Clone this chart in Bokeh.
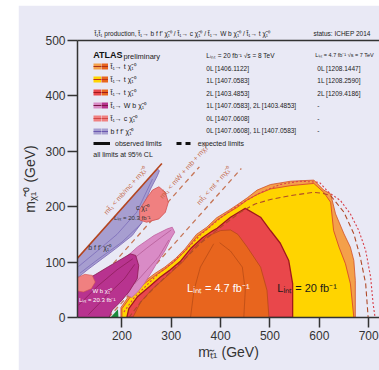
from bokeh.plotting import figure
from bokeh.models import Range1d, FixedTicker, LinearAxis, Label, Legend, LegendItem, Spacer
from bokeh.layouts import row, column
from bokeh.embed import file_html
from bokeh.resources import INLINE

# ---------------- data ----------------
x_ticks = [100, 200, 300, 400, 500, 600, 700]
y_ticks = [0, 100, 200, 300, 400, 500]

# kinematic boundaries
kin_b_x = [110, 281]
kin_b_y = [107, 278]
kin_wb_x = [110, 357]
kin_wb_y = [25, 272]
kin_t_x = [173, 442]
kin_t_y = [0, 269]

# t1 -> t chi (8 TeV, 0L) light orange
lo_x = [198, 198, 215, 240, 266, 287, 308, 328, 351, 372, 392, 416, 433, 454, 474, 501, 542, 589, 609, 623, 633, 650, 663, 670, 673, 673]
lo_y = [0, 18, 40, 61, 79, 91, 106, 124, 150, 163, 180, 193, 203, 216, 230, 240, 246, 248, 230, 223, 187, 151, 127, 103, 67, 0]
# t1 -> t chi (8 TeV, 1L) yellow
ye_x = [200, 200, 217, 241, 268, 288, 309, 329, 352, 373, 393, 417, 434, 454, 474, 501, 542, 589, 609, 623, 629, 640, 653, 663, 670]
ye_y = [0, 16, 37, 58, 76, 88, 103, 121, 146, 160, 176, 190, 199, 212, 222, 232, 238, 242, 226, 208, 157, 127, 97, 61, 0]
# t1 -> t chi (8 TeV, 2L) red
rd_x = [210, 214, 232, 256, 278, 298, 318, 341, 363, 383, 393, 420, 450, 481, 501, 521, 538, 546, 546]
rd_y = [0, 16, 38, 56, 73, 86, 101, 126, 144, 156, 161, 181, 197, 181, 157, 134, 103, 61, 0]
# t1 -> t chi (7 TeV) dark orange
do_x = [222, 238, 260, 283, 303, 323, 346, 372, 400, 420, 435, 454, 481, 494, 498]
do_y = [0, 28, 50, 68, 84, 100, 126, 146, 157, 158, 150, 127, 91, 49, 0]
# t1 -> W b chi : pink (1L) and magenta (2L)
pk_x = [205, 231, 265, 292, 302, 307, 299, 287, 272, 260, 246, 232, 220, 210]
pk_y = [106, 127, 148, 160, 163, 154, 142, 120, 100, 82, 62, 46, 36, 40]
mg_x = [110, 110, 120, 147, 173, 200, 217, 228, 234, 231, 214, 197, 180, 174]
mg_y = [0, 62, 64, 78, 92, 106, 115, 112, 94, 70, 46, 28, 13, 0]
gr_x = [177, 193, 192]
gr_y = [0, 0, 15]
# b f f' chi : purple
pu_x = [110, 272, 276, 272, 258, 250, 241, 241, 221, 187, 160, 133, 112, 110]
pu_y = [107, 268, 265, 256, 232, 215, 195, 172, 148, 124, 106, 88, 73, 72]
# t1 -> c chi : salmon
sa1_x = [236, 250, 262, 275, 288, 294, 288, 275, 250, 236]
sa1_y = [195, 215, 230, 236, 226, 208, 190, 178, 172, 176]
sa2_x = [110, 110, 125, 140, 146, 138, 122]
sa2_y = [48, 72, 78, 76, 64, 52, 46]

# expected limits (dashed) and alternative observed (dotted)
exp_x = [214, 240, 270, 300, 330, 359, 400, 440, 470, 501, 542, 588, 608, 623, 650, 670, 683, 694, 699]
exp_y = [0, 30, 58, 83, 108, 134, 163, 190, 205, 213, 220, 226, 224, 220, 190, 151, 109, 61, 0]
dot_x = [204, 225, 250, 275, 300, 330, 360, 400, 440, 480, 520, 560, 600, 619, 643, 663, 680, 694, 704, 709, 713]
dot_y = [10, 36, 58, 80, 97, 122, 150, 180, 205, 225, 240, 246, 244, 226, 211, 187, 157, 121, 73, 25, 0]

# internal contours
c1_x = [339, 346, 359, 386]
c1_y = [0, 49, 91, 133]
c2_x = [447, 450, 444, 420, 398]
c2_y = [0, 49, 91, 120, 135]
pc1_x = [112, 150, 190, 230, 262]
pc1_y = [92, 120, 150, 190, 250]
pc2_x = [115, 150, 200, 240]
pc2_y = [80, 104, 136, 170]
mc1_x = [112, 150, 190, 222]
mc1_y = [22, 56, 86, 106]
mc2_x = [132, 170, 205, 226]
mc2_y = [5, 40, 70, 96]
kc1_x = [215, 250, 280, 300]
kc1_y = [100, 125, 145, 158]
kc2_x = [225, 250, 275, 295]
kc2_y = [60, 85, 110, 140]

# off-screen points that only feed the legend swatches
legend_x = [0, 1]
legend_y = [-100, -100]

header_text = "t̃₁t̃₁ production,   t̃₁→ b f f' χ̃₁⁰ / t̃₁→ c χ̃₁⁰ / t̃₁→ W b χ̃₁⁰ / t̃₁→ t χ̃₁⁰"
status_text = "status: ICHEP 2014"
header_ticks = [326, 646]

legend_labels = ["t̃₁→ t χ̃₁⁰", "t̃₁→ t χ̃₁⁰", "t̃₁→ t χ̃₁⁰", "t̃₁→ W b χ̃₁⁰", "t̃₁→ c χ̃₁⁰", "b f f' χ̃₁⁰"]
refs_8tev = ["0L [1406.1122]", "1L [1407.0583]", "2L [1403.4853]",
             "1L [1407.0583], 2L [1403.4853]", "0L [1407.0608]", "0L [1407.0608], 1L [1407.0583]"]
refs_7tev = ["0L [1208.1447]", "1L [1208.2590]", "2L [1209.4186]", "-", "-", "-"]

# ---------------- style ----------------
FONT = "Liberation Sans"
BG = "#e9e9f5"
C_LO = "#f4a04a"
C_YE = "#ffd400"
C_RD = "#e9474b"
C_DO = "#e8651e"
C_PK = "#d98bc6"
C_MG = "#b8338f"
C_SA = "#f08080"
C_PU = "#a79ed0"
C_KIN = "#c0603a"

p = figure(width=361, height=365, x_range=Range1d(110, 722), y_range=Range1d(0, 500),
           output_backend="svg", toolbar_location=None, tools="",
           min_border_left=59, min_border_right=0, min_border_top=35, min_border_bottom=53,
           background_fill_color=BG, border_fill_color=BG, outline_line_color=None)
p.xgrid.visible = False
p.ygrid.visible = False

for ax in (p.xaxis[0], p.yaxis[0]):
    ax.axis_line_color = "#333333"
    ax.axis_line_width = 1.5
    ax.major_tick_line_color = "#333333"
    ax.major_tick_line_width = 1.5
    ax.major_tick_out = 10
    ax.major_tick_in = 0
    ax.minor_tick_line_color = None
    ax.major_label_text_font = FONT
    ax.major_label_text_font_size = "12px"
    ax.major_label_text_color = "#333333"
    ax.axis_label_text_font = FONT
    ax.axis_label_text_font_size = "14px"
    ax.axis_label_text_font_style = "normal"
    ax.axis_label_text_color = "#333333"
p.xaxis.ticker = FixedTicker(ticks=x_ticks)
p.yaxis.ticker = FixedTicker(ticks=y_ticks)
p.xaxis.major_label_standoff = 3
p.xaxis.axis_label_standoff = 1
p.yaxis.major_label_standoff = 2
p.yaxis.axis_label_standoff = 4
p.xaxis.axis_label = "m\u209c\u0303\u2081 (GeV)"
p.yaxis.axis_label = "m\u1d6a\u0303\u2081\u2070 (GeV)"

# top frame line carrying the header texts
top_axis = LinearAxis(ticker=FixedTicker(ticks=header_ticks), axis_line_color="#333333", axis_line_width=1.5,
                      major_tick_line_color=None, minor_tick_line_color=None,
                      major_tick_out=0, major_tick_in=0, major_label_standoff=4,
                      major_label_overrides={header_ticks[0]: header_text, header_ticks[1]: status_text},
                      major_label_text_font=FONT, major_label_text_font_size="6.5px",
                      major_label_text_color="#222222")
p.add_layout(top_axis, "above")

# kinematic dashed lines (under the regions)
p.line(kin_wb_x, kin_wb_y, line_color=C_KIN, line_width=1.3, line_dash="5 4", line_alpha=0.85)
p.line(kin_t_x, kin_t_y, line_color=C_KIN, line_width=1.3, line_dash="5 4", line_alpha=0.85)

# t -> t chi regions
p.patch(lo_x, lo_y, fill_color=C_LO, line_color="#d0502a", line_width=0.8)
p.patch(ye_x, ye_y, fill_color=C_YE, line_color="#d43c2c", line_width=0.8)
p.patch(rd_x, rd_y, fill_color=C_RD, line_color="#a0181c", line_width=1.3)
p.patch(do_x, do_y, fill_color=C_DO, line_color="#b8481a", line_width=0.8)
for cx, cy in ((c1_x, c1_y), (c2_x, c2_y)):
    p.line(cx, cy, line_color="#9a3a10", line_width=0.8, line_alpha=0.6)
p.line(exp_x, exp_y, line_color="#b04a28", line_width=1.1, line_dash="5 3")
p.line(dot_x, dot_y, line_color="#d8404a", line_width=1.1, line_dash="2 2")

# W b chi, c chi, bff chi regions
p.patch(pk_x, pk_y, fill_color=C_PK, line_color="#c060a0", line_width=0.8)
for cx, cy in ((kc1_x, kc1_y), (kc2_x, kc2_y)):
    p.line(cx, cy, line_color="#a0407a", line_width=0.7, line_alpha=0.7)
p.patch(mg_x, mg_y, fill_color=C_MG, line_color="#8a1a50", line_width=0.8)
for cx, cy in ((mc1_x, mc1_y), (mc2_x, mc2_y)):
    p.line(cx, cy, line_color="#7d1545", line_width=0.7, line_alpha=0.8)
p.patch(gr_x, gr_y, fill_color="#1a8a3a", line_color=None)
p.patch(pu_x, pu_y, fill_color=C_PU, line_color="#7a66b5", line_width=0.8)
for cx, cy in ((pc1_x, pc1_y), (pc2_x, pc2_y)):
    p.line(cx, cy, line_color="#6a58b0", line_width=0.7, line_alpha=0.8)
p.patch(sa1_x, sa1_y, fill_color=C_SA, line_color="#d05050", line_width=0.8)
p.patch(sa2_x, sa2_y, fill_color=C_SA, line_color="#d05050", line_width=0.6)
p.line(kin_b_x, kin_b_y, line_color="#b5461f", line_width=1.6)

# ---------------- texts ----------------
def lab(x, y, text, size, color="#222222", align="left", angle=0.0, style="normal", alpha=1.0):
    p.add_layout(Label(x=x, y=y, text=text, text_font=FONT, text_font_size=size, text_color=color,
                       text_align=align, text_baseline="middle", angle=angle,
                       text_font_style=style, text_alpha=alpha))

ANG = 0.843
lab(207, 229, "mt̃₁ < mb/mc + mχ̃₁⁰", "7px", C_KIN, "center", ANG, alpha=0.9)
lab(326, 264, "mt̃₁ < mW + mb + mχ̃₁⁰", "7px", C_KIN, "center", ANG, alpha=0.9)
lab(386, 238, "mt̃₁ < mt + mχ̃₁⁰", "7px", C_KIN, "center", ANG, alpha=0.9)

lab(332, 53, "L\u1d62\u2099\u209c = 4.7 fb\u207b\u00b9", "11px", "#ffffff")
lab(515, 53, "L\u1d62\u2099\u209c = 20 fb\u207b\u00b9", "11px", "#1a1a1a")
lab(155, 126, "b f f' χ̃₁⁰", "7px", "#333333", "center")
lab(242, 199, "c χ̃₁⁰", "7px", "#333333", "center")
lab(221, 180, "L\u1d62\u2099\u209c = 20.3 fb\u207b\u00b9", "6px", "#333333", "center")
lab(160, 48, "W b χ̃₁⁰", "6px", "#ffffff", "center")
lab(150, 31, "L\u1d62\u2099\u209c = 20.3 fb\u207b\u00b9", "6px", "#ffffff", "center")

# legend block texts
lab(142, 473, "ATLAS", "9px", "#111111", style="bold")
lab(203, 471, "preliminary", "7.5px", "#222222")
lab(371, 473, "L\u1d62\u2099\u209c = 20 fb\u207b\u00b9  √s = 8 TeV", "6.5px", "#222222")
lab(592, 473, "L\u1d62\u2099\u209c = 4.7 fb\u207b\u00b9 √s = 7 TeV", "5.5px", "#222222")
row_y = [450, 427.4, 404.9, 382.3, 359.7, 337.2]
for yy, t8, t7 in zip(row_y, refs_8tev, refs_7tev):
    lab(371, yy, t8, "6.5px", "#222222")
    lab(596, yy, t7, "6.5px", "#222222")
lab(142, 294, "all limits at 95% CL", "7px", "#222222")

# legend swatches (two-tone)
def swatch(color, width, dash="solid"):
    return p.line(legend_x, legend_y, line_color=color, line_width=width, line_dash=dash, line_cap="butt")

left_cols = [C_LO, C_YE, C_RD, C_PK, C_SA, C_PU]
right_cols = [C_DO, C_DO, C_DO, C_MG, C_SA, C_PU]
mid_cols = ["#a8301a", "#c0301a", "#a0181c", "#7a1545", "#d04848", "#6a58b0"]

common = dict(orientation="vertical", glyph_height=12, label_height=12, spacing=1, padding=0, margin=0,
              border_line_color=None, background_fill_alpha=0, label_text_font=FONT,
              label_text_font_size="7px", label_text_color="#222222")
legA = Legend(items=[LegendItem(label=" ", renderers=[swatch(c, 6), swatch(m, 1)])
                     for c, m in zip(left_cols, mid_cols)],
              location=(16, 180), glyph_width=8, label_standoff=0, **common)
legB = Legend(items=[LegendItem(label=t, renderers=[swatch(c, 6), swatch(m, 1)])
                     for t, c, m in zip(legend_labels, right_cols, mid_cols)],
              location=(23.5, 180), glyph_width=7, label_standoff=3, **common)
legC = Legend(items=[LegendItem(label="observed limits", renderers=[swatch("#111111", 3)]),
                     LegendItem(label="expected limits", renderers=[swatch("#111111", 3, "5 4")])],
              location=(16, 168), orientation="horizontal", glyph_width=17, glyph_height=12,
              label_height=12, spacing=14, padding=0, margin=0, label_standoff=5,
              border_line_color=None, background_fill_alpha=0, label_text_font=FONT,
              label_text_font_size="7px", label_text_color="#222222")
p.add_layout(legA)
p.add_layout(legB)
p.add_layout(legC)

layout = row(Spacer(width=18, height=370), column(Spacer(width=361, height=5), p))
open("out.html", "w").write(file_html(layout, INLINE))
